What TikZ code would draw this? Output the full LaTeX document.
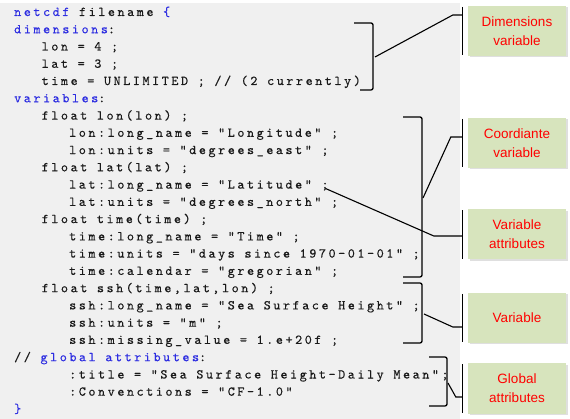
\documentclass[tikz,border=0pt]{standalone}
\usepackage{fontspec}
\usepackage{xcolor}
\usepackage{tikz}
\usetikzlibrary{shadows}
\newfontfamily\codefont{lmmono10-regular.otf}[LetterSpace=18.8, FakeBold=0.3]
\newfontfamily\tagfont{Liberation Sans}
\definecolor{codebg}{RGB}{240,240,240}
\definecolor{kwblue}{RGB}{45,45,225}
\definecolor{tagfill}{RGB}{215,228,189}
\newcommand{\kw}[1]{\textcolor{kwblue}{#1}}

\begin{document}
\begin{tikzpicture}[
    x=1pt, y=-1pt,
    code/.style={anchor=base west, inner sep=0pt, text=black!90, font=\codefont\fontsize{13.5}{16}\selectfont},
    tag/.style={rectangle, fill=tagfill, minimum width=98pt, minimum height=50pt, align=center, text=red,
                font=\tagfont\fontsize{13.5}{19}\selectfont, drop shadow={shadow xshift=1.5pt, shadow yshift=-1.5pt, fill=black!25}},
    bracket/.style={draw, line width=1.3pt, rounded corners=2pt},
    link/.style={draw, line width=1.1pt},
    bar/.style={draw, line width=1.3pt}
]
\useasboundingbox (0,0) rectangle (570,419);
\fill[codebg] (0,3) rectangle (460,419);

% Code listing
\node[code] (l1)  at (14,16)    {\kw{netcdf} filename \kw{\{}};
\node[code] (l2)  at (14,33.3)  {\kw{dimensions}:};
\node[code] (l3)  at (41.5,50.5)  {lon = 4 ;};
\node[code] (l4)  at (41.5,67.8)  {lat = 3 ;};
\node[code] (l5)  at (41.5,85)    {time = UNLIMITED ; // (2 currently)};
\node[code] (l6)  at (14,102.3) {\kw{variables}:};
\node[code] (l7)  at (41.5,119.6) {float lon(lon) ;};
\node[code] (l8)  at (69,136.8) {lon:long\_name = "Longitude" ;};
\node[code] (l9)  at (69,154.1) {lon:units = "degrees\_east" ;};
\node[code] (l10) at (41.5,171.3) {float lat(lat) ;};
\node[code] (l11) at (69,188.6) {lat:long\_name = "Latitude" ;};
\node[code] (l12) at (69,205.9) {lat:units = "degrees\_north" ;};
\node[code] (l13) at (41.5,223.1) {float time(time) ;};
\node[code] (l14) at (69,240.4) {time:long\_name = "Time" ;};
\node[code] (l15) at (69,257.6) {time:units = "days since 1970-01-01" ;};
\node[code] (l16) at (69,274.9) {time:calendar = "gregorian" ;};
\node[code] (l17) at (41.5,292.2) {float ssh(time,lat,lon) ;};
\node[code] (l18) at (69,309.4) {ssh:long\_name = "Sea Surface Height" ;};
\node[code] (l19) at (69,326.7) {ssh:units = "m" ;};
\node[code] (l20) at (69,343.9) {ssh:missing\_value = 1.e+20f ;};
\node[code] (l21) at (14,361.2) {// \kw{global attributes}:};
\node[code] (l22) at (69,378.5) {:title = "Sea Surface Height-Daily Mean";};
\node[code] (l23) at (69,395.7) {:Convenctions = "CF-1.0"};
\node[code] (l24) at (14,413)   {\kw{\}}};

% Brackets
\draw[bracket] (354,23) -- (373,23) -- (373,90) -- (360,90);
\draw[bracket] (403,117) -- (422,117) -- (422,277) -- (403,277);
\draw[bracket] (403,283) -- (422,283) -- (422,343) -- (403,343);
\draw[bracket] (429,357) -- (447,357) -- (447,406) -- (429,406);
\coordinate (dimtip) at (375,57);
\coordinate (coordtip) at (423,198);
\coordinate (attrtip) at ([xshift=-3pt]l11.base east);
\coordinate (vartip) at (424,314);
\coordinate (globtip) at (448,383);

% Labels
\node[tag] (dims)  at (517,31)    {Dimensions\\variable};
\node[tag] (coord) at (517,143)   {Coordiante\\variable};
\node[tag] (attr)  at (517,234.5) {Variable\\attributes};
\node[tag] (var)   at (517,318)   {Variable};
\node[tag] (glob)  at (517,388.5) {Global\\attributes};

% Bars beside the labels
\foreach \b in {dims,coord,attr,var,glob}
  \draw[bar] ([xshift=-5pt,yshift=-1pt]\b.north west) -- ([xshift=-5pt,yshift=1pt]\b.south west);
\coordinate (dimsbar)  at ([xshift=-5pt,yshift=16pt]dims.west);
\coordinate (coordbar) at ([xshift=-5pt,yshift=6pt]coord.west);
\coordinate (attrbar)  at ([xshift=-5pt,yshift=-1.5pt]attr.west);
\coordinate (varbar)   at ([xshift=-5pt,yshift=-9pt]var.west);
\coordinate (globbar)  at ([xshift=-5pt,yshift=-8.5pt]glob.west);

% Connections
\draw[link] (dimtip) -- ([xshift=-10pt]dimsbar) -- (dimsbar);
\draw[link] (coordtip) -- ([xshift=-12pt]coordbar) -- (coordbar);
\draw[link] (attrtip) -- ([xshift=-29pt]attrbar) -- (attrbar);
\draw[link] (vartip) -- ([xshift=-10pt]varbar) -- (varbar);
\draw[link] (globtip) -- ([xshift=-7pt]globbar) -- (globbar);

\end{tikzpicture}
\end{document}
